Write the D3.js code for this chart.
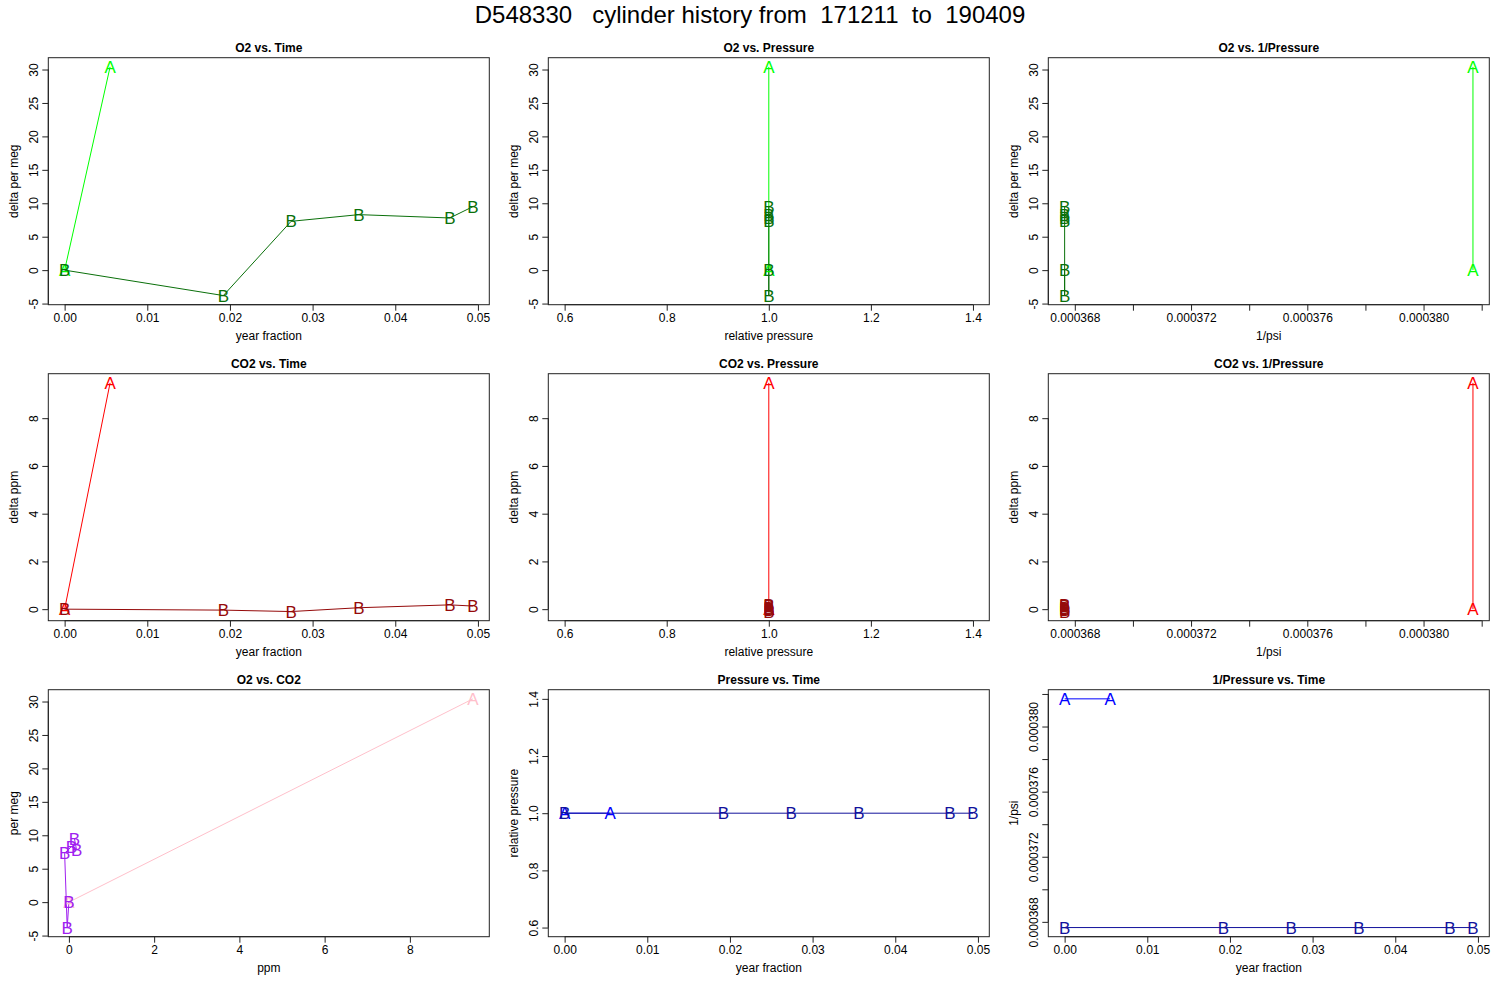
<!DOCTYPE html>
<html>
<head>
<meta charset="utf-8">
<script src="https://cdn.jsdelivr.net/npm/d3@7"></script>
<style>
  html, body { margin: 0; padding: 0; background: #fff; }
  svg { display: block; }
  text { font-family: "Liberation Sans", Arial, Helvetica, sans-serif; }
</style>
</head>
<body>
<svg id="chart" width="1500" height="1000"></svg>
<script>
// ---------------- data ----------------
const mainTitle = "D548330   cylinder history from  171211  to  190409";

const timeA = [0, 0.0055];
const timeB = [0, 0.0192, 0.0274, 0.0356, 0.0466, 0.0494];
const o2A   = [0, 30.4];
const o2B   = [0, -3.8, 7.3, 8.3, 7.8, 9.5];
const co2A  = [0, 9.48];
const co2B  = [0, -0.04, -0.1, 0.06, 0.18, 0.13];
const pressA = [1.0, 1.0];
const pressB = [1.0, 1.0, 1.0, 1.0, 1.0, 1.0];
const invpA = [0.0003817, 0.0003817];
const invpB = [0.00036765, 0.00036765, 0.00036765, 0.00036765, 0.00036765, 0.00036765];

const timeTicks = [0, 0.01, 0.02, 0.03, 0.04, 0.05];
const timeTickLabels = ["0.00", "0.01", "0.02", "0.03", "0.04", "0.05"];
const o2Ticks = [-5, 0, 5, 10, 15, 20, 25, 30];
const o2TickLabels = ["-5", "0", "5", "10", "15", "20", "25", "30"];
const co2Ticks = [0, 2, 4, 6, 8];
const co2TickLabels = ["0", "2", "4", "6", "8"];
const pressTicks = [0.6, 0.8, 1.0, 1.2, 1.4];
const pressTickLabels = ["0.6", "0.8", "1.0", "1.2", "1.4"];
const invpTicks = [0.000368, 0.000370, 0.000372, 0.000374, 0.000376, 0.000378, 0.000380, 0.000382];
const invpTickLabels = ["0.000368", "", "0.000372", "", "0.000376", "", "0.000380", ""];

const seriesLetters = ["A", "B"];
const greenCols  = ["#00ff00", "#0a700a"];
const redCols    = ["#ff0000", "#950a0a"];
const pinkCols   = ["#ffc0cb", "#a020f0"];
const blueCols   = ["#0000ff", "#12129c"];

// ---------------- panels ----------------
const time = {A: timeA, B: timeB, ticks: timeTicks, labels: timeTickLabels};
const o2   = {A: o2A, B: o2B, ticks: o2Ticks, labels: o2TickLabels};
const co2  = {A: co2A, B: co2B, ticks: co2Ticks, labels: co2TickLabels};
const press = {A: pressA, B: pressB, ticks: pressTicks, labels: pressTickLabels};
const invp = {A: invpA, B: invpB, ticks: invpTicks, labels: invpTickLabels};

const panels = [
  {title: "O2 vs. Time", x: time, y: o2, xlab: "year fraction", ylab: "delta per meg", cols: greenCols},
  {title: "O2 vs. Pressure", x: press, y: o2, xlab: "relative pressure", ylab: "delta per meg", cols: greenCols},
  {title: "O2 vs. 1/Pressure", x: invp, y: o2, xlab: "1/psi", ylab: "delta per meg", cols: greenCols},
  {title: "CO2 vs. Time", x: time, y: co2, xlab: "year fraction", ylab: "delta ppm", cols: redCols},
  {title: "CO2 vs. Pressure", x: press, y: co2, xlab: "relative pressure", ylab: "delta ppm", cols: redCols},
  {title: "CO2 vs. 1/Pressure", x: invp, y: co2, xlab: "1/psi", ylab: "delta ppm", cols: redCols},
  {title: "O2 vs. CO2", x: co2, y: o2, xlab: "ppm", ylab: "per meg", cols: pinkCols},
  {title: "Pressure vs. Time", x: time, y: press, xlab: "year fraction", ylab: "relative pressure", cols: blueCols},
  {title: "1/Pressure vs. Time", x: time, y: invp, xlab: "year fraction", ylab: "1/psi", cols: blueCols}
];

// R-like axis range: zero-width range expanded by 40%, then 4% padding
function rDomain(vals) {
  let lo = d3.min(vals), hi = d3.max(vals);
  if (lo === hi) { const d = 0.4 * Math.abs(lo || 1); lo -= d; hi += d; }
  const pad = 0.04 * (hi - lo);
  return [lo - pad, hi + pad];
}

const svg = d3.select("#chart");

svg.append("text")
  .attr("x", 750).attr("y", 23)
  .attr("text-anchor", "middle")
  .style("white-space", "pre")
  .attr("font-size", 24)
  .attr("fill", "#000")
  .text(mainTitle);

const PW = 441, PH = 247;

panels.forEach((p, i) => {
  const col = i % 3, row = Math.floor(i / 3);
  const left = 48.3 + 500 * col;
  const top = 57.7 + 316 * row;
  const g = svg.append("g").attr("transform", `translate(${left},${top})`);

  const xs = d3.scaleLinear().domain(rDomain(p.x.A.concat(p.x.B))).range([0, PW]);
  const ys = d3.scaleLinear().domain(rDomain(p.y.A.concat(p.y.B))).range([PH, 0]);

  // series: lines then letters
  seriesLetters.forEach((s, si) => {
    const pts = p.x[s].map((xv, k) => [xv, p.y[s][k]]);
    g.append("path")
      .datum(pts)
      .attr("fill", "none")
      .attr("stroke", p.cols[si])
      .attr("stroke-width", 1)
      .attr("d", d3.line().x(d => xs(d[0])).y(d => ys(d[1])));
  });
  seriesLetters.forEach((s, si) => {
    const pts = p.x[s].map((xv, k) => [xv, p.y[s][k]]);
    g.selectAll(null).data(pts).enter().append("text")
      .attr("x", d => xs(d[0]))
      .attr("y", d => ys(d[1]) + 6)
      .attr("text-anchor", "middle")
      .attr("font-size", 17)
      .attr("fill", p.cols[si])
      .text(s);
  });

  // box
  g.append("rect").attr("x", 0).attr("y", 0).attr("width", PW).attr("height", PH)
    .attr("fill", "none").attr("stroke", "#222").attr("stroke-width", 1);

  // x axis
  const xAxis = d3.axisBottom(xs).tickValues(p.x.ticks)
    .tickFormat((d, k) => p.x.labels[k]).tickSize(6).tickPadding(3);
  const xg = g.append("g").attr("transform", `translate(0,${PH})`).call(xAxis);
  xg.select(".domain").remove();
  xg.selectAll("text").attr("font-size", 12).attr("font-family", null).attr("fill", "#000");
  xg.selectAll("line").attr("stroke", "#222");
  xg.append("line")
    .attr("x1", xs(p.x.ticks[0])).attr("x2", xs(p.x.ticks[p.x.ticks.length - 1]))
    .attr("y1", 0).attr("y2", 0).attr("stroke", "#222");

  // y axis
  const yAxis = d3.axisLeft(ys).tickValues(p.y.ticks)
    .tickFormat((d, k) => p.y.labels[k]).tickSize(6);
  const yg = g.append("g").call(yAxis);
  yg.select(".domain").remove();
  yg.selectAll("line").attr("stroke", "#222");
  yg.selectAll("text")
    .attr("font-size", 12).attr("font-family", null).attr("fill", "#000")
    .attr("x", 0).attr("y", -10.5).attr("dy", null)
    .attr("text-anchor", "middle")
    .attr("transform", "rotate(-90)");
  yg.append("line")
    .attr("y1", ys(p.y.ticks[0])).attr("y2", ys(p.y.ticks[p.y.ticks.length - 1]))
    .attr("x1", 0).attr("x2", 0).attr("stroke", "#222");

  // titles and labels
  g.append("text").attr("x", PW / 2).attr("y", -5.7)
    .attr("text-anchor", "middle").attr("font-size", 12).attr("font-weight", "bold")
    .attr("fill", "#000").text(p.title);
  g.append("text").attr("x", PW / 2).attr("y", PH + 35)
    .attr("text-anchor", "middle").attr("font-size", 12)
    .attr("fill", "#000").text(p.xlab);
  g.append("text")
    .attr("transform", `translate(-30,${PH / 2}) rotate(-90)`)
    .attr("text-anchor", "middle").attr("font-size", 12)
    .attr("fill", "#000").text(p.ylab);
});
</script>
</body>
</html>
